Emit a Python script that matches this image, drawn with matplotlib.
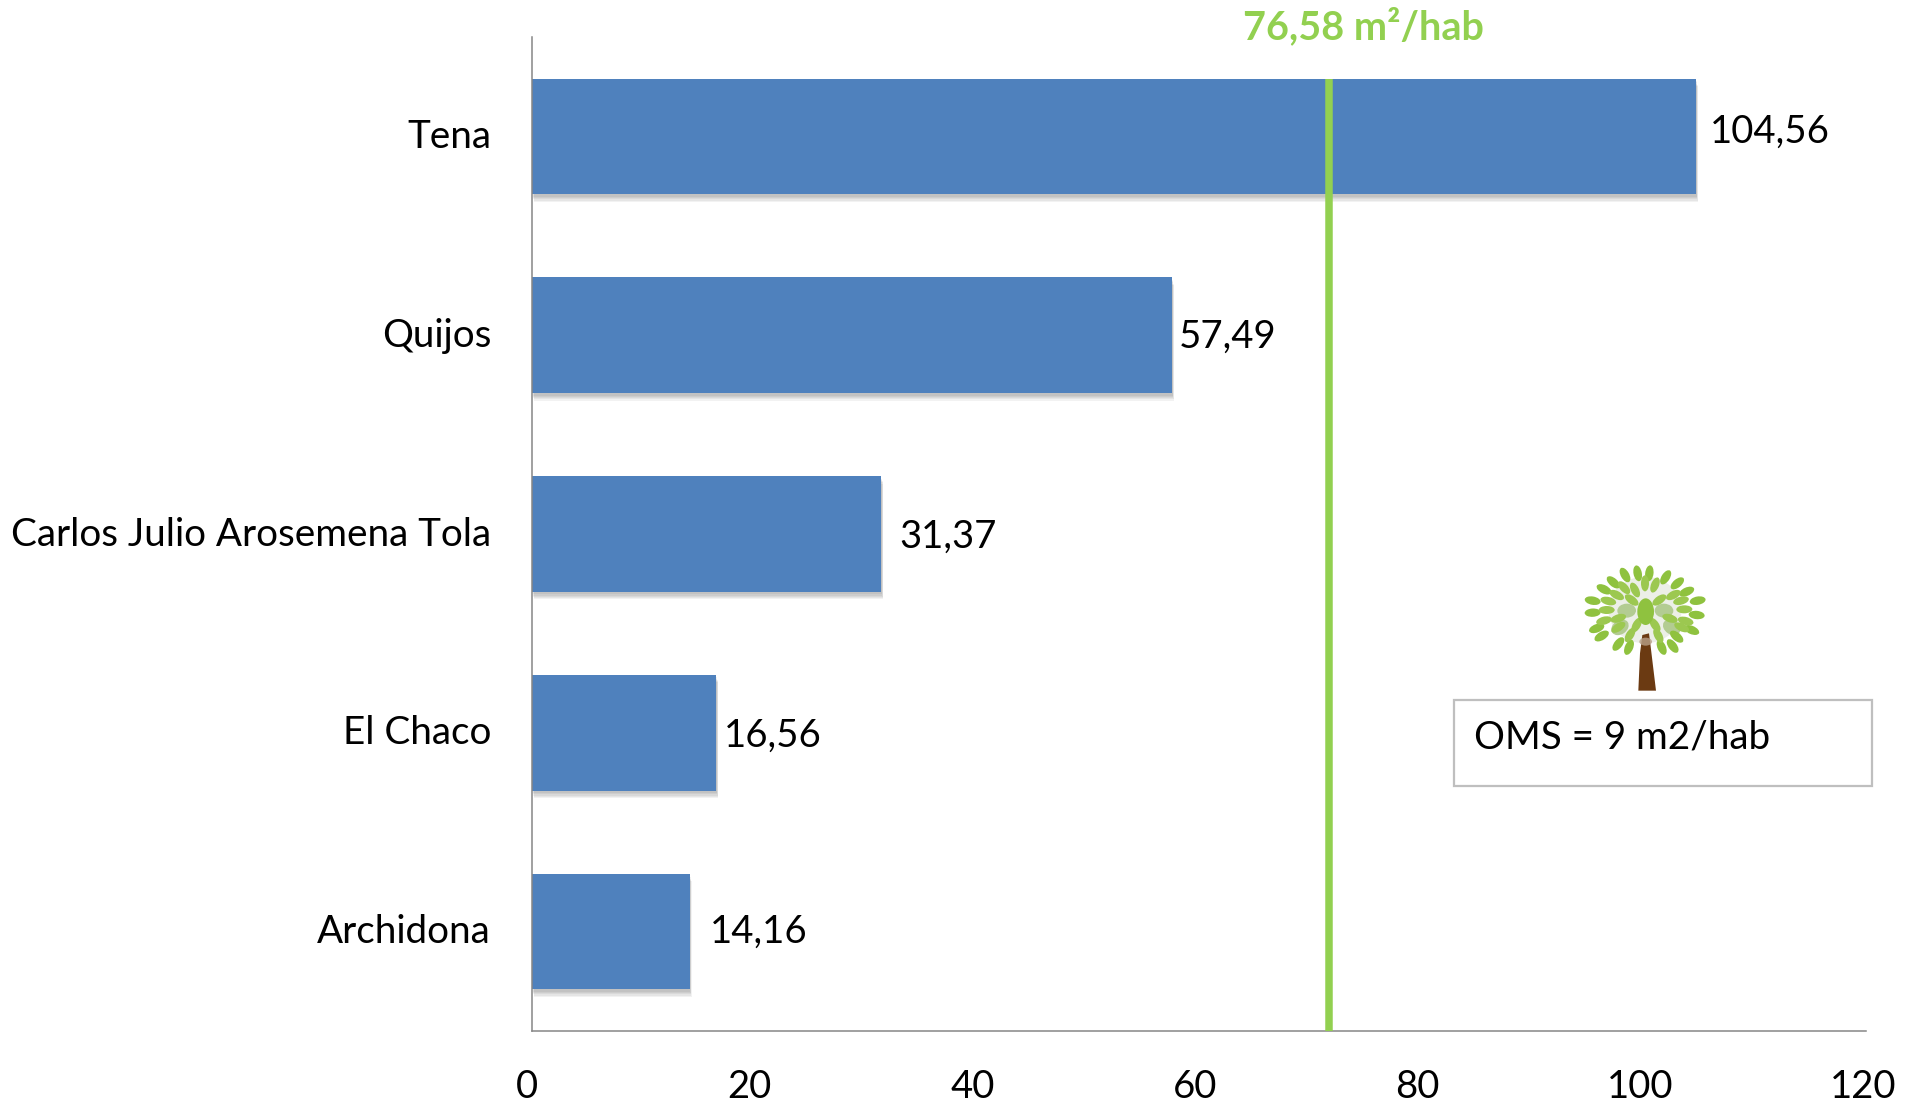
import numpy as np
import matplotlib
matplotlib.use("Agg")
import matplotlib.pyplot as plt
import matplotlib.patheffects as pe
from matplotlib.patches import Ellipse, Polygon, Rectangle
from matplotlib.transforms import ScaledTranslation

# ---- data ----
categories = ["Archidona", "El Chaco", "Carlos Julio Arosemena Tola", "Quijos", "Tena"]
values = [14.16, 16.56, 31.37, 57.49, 104.56]
value_labels = ["14,16", "16,56", "31,37", "57,49", "104,56"]
x_ticks = [0, 20, 40, 60, 80, 100, 120]
reference_position = 71.6
reference_label = "76,58 m²/hab"
note_text = "OMS = 9 m2/hab"

# ---- layout (pixels) ----
W, H = 1915, 1104
L, R, T, B = 532, 1868, 37, 1031
label_offsets = [(20, 0), (8, -3), (18, -3), (7, -2), (14, 5)]
FONT = "Lato"
FS = 27.5
BLUE = "#4F81BD"
GREEN = "#92D050"

fig = plt.figure(figsize=(W / 100, H / 100), dpi=100, facecolor="white")
plt.rcParams["font.family"] = [FONT, "DejaVu Sans"]
ax = fig.add_axes([L / W, 1 - B / H, (R - L) / W, (B - T) / H])
y = np.arange(len(categories))

shadow = [pe.SimplePatchShadow(offset=(o * 0.4, -o * 1.5), shadow_rgbFace="#000000", alpha=0.05)
          for o in (3.6, 3.0, 2.4, 1.8, 1.2)] + [pe.Normal()]
bars = ax.barh(y, values, height=0.582, color=BLUE, edgecolor="none", zorder=2)
for b in bars:
    b.set_path_effects(shadow)

ax.set_xlim(0, 120)
ax.set_ylim(-0.5, 4.5)
ax.set_yticks(y, categories)
ax.set_xticks(x_ticks, [str(v) for v in x_ticks])
ax.tick_params(axis="y", length=0, pad=29.5, labelsize=27.8)
ax.tick_params(axis="x", length=0, pad=27, labelsize=FS)
shift_x = ScaledTranslation(-5 / 100, 0, fig.dpi_scale_trans)
for t in ax.get_xticklabels():
    t.set_transform(t.get_transform() + shift_x)
shift_y = ScaledTranslation(0, 3 / 100, fig.dpi_scale_trans)
for t in ax.get_yticklabels():
    t.set_transform(t.get_transform() + shift_y)
for s in ("top", "right"):
    ax.spines[s].set_visible(False)
for s in ("left", "bottom"):
    ax.spines[s].set_color("#868686")
    ax.spines[s].set_linewidth(1.1)
ax.spines["bottom"].set_bounds(0, 119.8)

for v, yy, txt, off in zip(values, y, value_labels, label_offsets):
    ax.annotate(txt, (v, yy), xytext=off, textcoords="offset pixels",
                ha="left", va="center", fontsize=FS, color="black", zorder=4)

ax.axvline(reference_position, ymin=0, ymax=(B - 79) / (B - T), color=GREEN, lw=5.4,
           zorder=3, solid_capstyle="butt")
fig.text(1363 / W, 1 - 27 / H, reference_label, color=GREEN, fontsize=28.5,
         fontweight="bold", ha="center", va="center")

# ---- tree and note box, in pixels of a crop at 3x ----
ov = fig.add_axes([1400 / W, 1 - 810 / H, 515 / W, 270 / H], facecolor="none")
ov.set_xlim(0, 1545)
ov.set_ylim(810, 0)
ov.axis("off")
ov.add_patch(Rectangle((163, 481), 1253, 257, fc="white", ec="#BFBFBF", lw=1.6))
ov.text(222, 592, note_text, fontsize=FS + 0.3, color="black", ha="left", va="center")

cx, cy = 735, 210
outer = [(675, 105), (713, 100), (748, 100), (797, 112), (832, 130), (860, 155), (893, 182),
         (890, 225), (875, 270), (818, 318), (785, 322), (687, 322), (655, 312), (590, 265),
         (578, 218), (578, 182), (612, 148), (640, 127), (605, 288), (830, 290)]
inner = [(705, 150), (765, 135), (735, 130), (672, 143), (820, 165), (843, 182), (625, 183),
         (650, 165), (620, 210), (853, 208), (857, 243), (612, 242), (655, 262), (845, 262),
         (690, 285), (775, 287), (778, 180), (695, 180), (710, 255), (765, 255), (655, 235), (810, 235)]
pale = [(680, 212), (792, 212), (815, 262), (660, 262)]
ov.add_patch(Ellipse((cx, cy), 220, 200, fc="#E8EBE2", ec="none", alpha=0.8))


def leaf(px, py, length, width, color):
    angle = np.degrees(np.arctan2(py - cy, px - cx))
    ov.add_patch(Ellipse((px, py), length, width, angle=angle, fc=color, ec="none"))


for px, py in pale:
    leaf(px, py, 56, 42, "#B3CC92")
for px, py in outer:
    leaf(px, py, 48, 25, "#8FC23F")
for px, py in inner:
    leaf(px, py, 48, 24, "#9CC850")
ov.add_patch(Ellipse((737, 215), 50, 80, fc="#8FC23F", ec="none"))
ov.add_patch(Polygon([(727, 285), (747, 280), (752, 320), (768, 452), (715, 452), (720, 340)],
                     closed=True, fc="#6B3A12", ec="none"))
ov.add_patch(Ellipse((737, 305), 38, 24, fc="#B8A088", ec="none", alpha=0.8))

fig.savefig("out.png", dpi=100, facecolor="white")
